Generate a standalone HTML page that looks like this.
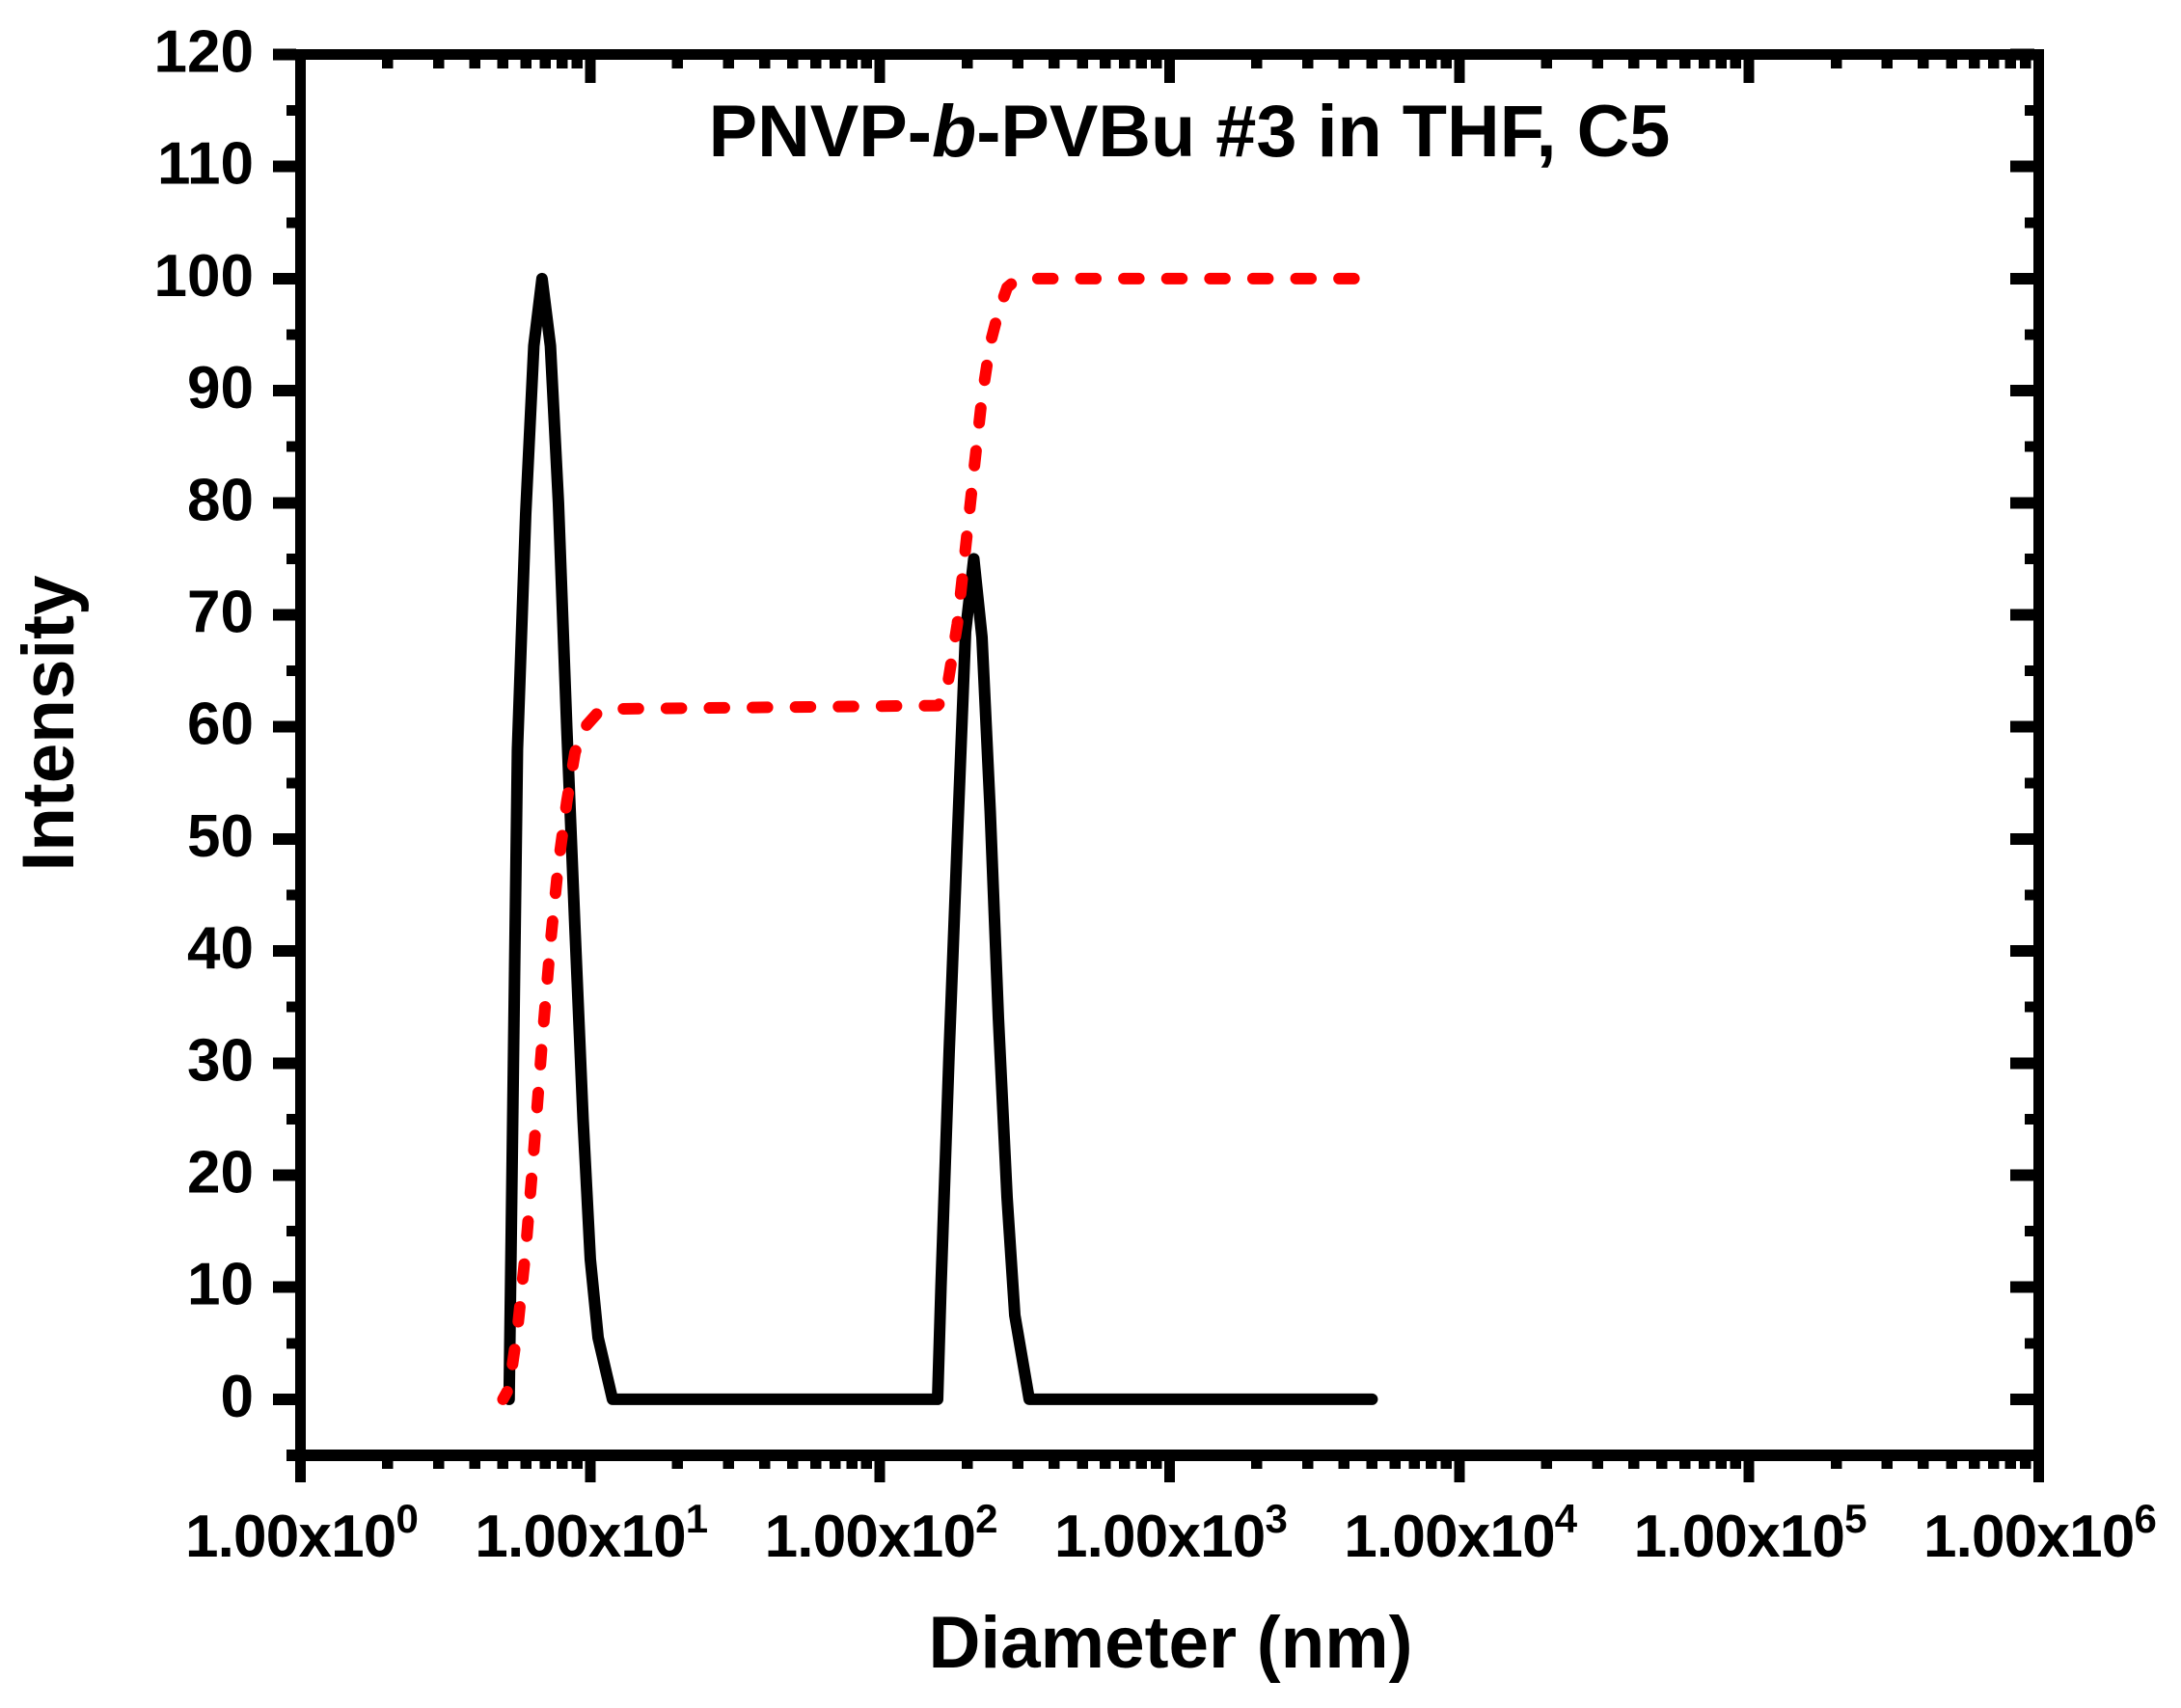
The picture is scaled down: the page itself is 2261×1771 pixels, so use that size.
<!DOCTYPE html>
<html lang="en">
<head>
<meta charset="utf-8">
<title>PNVP-b-PVBu #3 in THF, C5</title>
<style>
html,body{margin:0;padding:0;background:#fff;}
svg{display:block;}
text{font-family:"Liberation Sans",Arial,sans-serif;font-weight:bold;fill:#000;}
</style>
</head>
<body>
<svg id="chart" xmlns="http://www.w3.org/2000/svg" width="2261" height="1771" viewBox="0 0 2261 1771">
  <rect x="0" y="0" width="2261" height="1771" fill="#fff"/>
  <g id="ticks" shape-rendering="crispEdges"></g>
  <g id="spines" shape-rendering="crispEdges">
    <rect x="283" y="51" width="1836" height="11" fill="#000"/>
    <rect x="297" y="1503" width="1822" height="12" fill="#000"/>
    <rect x="306" y="51" width="11" height="1464" fill="#000"/>
    <rect x="2108" y="51" width="11" height="1464" fill="#000"/>
  </g>
  <g id="tick-labels"></g>
  <g id="series"></g>
  <text x="1233" y="162" text-anchor="middle" font-size="75.7">PNVP-<tspan font-style="italic">b</tspan>-PVBu #3 in THF, C5</text>
  <text x="1213.5" y="1729" text-anchor="middle" font-size="76" textLength="502" lengthAdjust="spacingAndGlyphs">Diameter (nm)</text>
  <text x="0" y="0" text-anchor="middle" font-size="76" textLength="307" lengthAdjust="spacingAndGlyphs" transform="translate(76 750) rotate(-90)">Intensity</text>
</svg>
<script>
// Chart data
const intensityDiameters = [5.25, 5.61, 5.99, 6.39, 6.82, 7.29, 7.77, 8.30, 8.86, 9.45, 10.01, 10.65, 11.94, 158.2, 162.5, 173.4, 185.1, 197.6, 210.9, 225.1, 240.3, 256.5, 274.8, 292.2, 327.7, 5000];
const intensityValues = [0, 58, 79, 94, 100, 94, 80, 60, 42, 25, 12.5, 5.5, 0, 0, 10, 31, 50, 68.5, 75, 68, 52.5, 34, 18, 7.5, 0, 0];
const cumulativeDiameters = [5.0, 5.25, 5.61, 5.99, 6.39, 6.82, 7.29, 7.77, 8.30, 8.86, 9.53, 10.65, 11.67, 158.2, 168.2, 173.4, 185.1, 197.6, 210.9, 225.1, 240.3, 256.5, 274.8, 292.2, 327.7, 5000];
const cumulativeValues = [0, 1, 6.2, 13.3, 22.2, 31.8, 40.7, 47.8, 53.3, 57.7, 59.9, 61.3, 61.6, 61.9, 62.6, 64.6, 69.2, 76, 82.8, 89.4, 94.2, 97, 99.2, 99.8, 100, 100];
const yMajorTicks = [0, 10, 20, 30, 40, 50, 60, 70, 80, 90, 100, 110, 120];
const yMinorTicks = [-5, 5, 15, 25, 35, 45, 55, 65, 75, 85, 95, 105, 115];
const xDecadeExponents = [0, 1, 2, 3, 4, 5, 6];
const xMinorMultipliers = [2, 3, 4, 5, 6, 7, 8, 9];
const xTickMantissa = '1.00x10';

// Axis functions
const PLOT = { left: 311.5, right: 2113.5, top: 56.5, bottom: 1509 };
const X_DOMAIN = [0, 6];
const Y_DOMAIN = [-5, 120];
function xScale(d) {
  return PLOT.left + (Math.log10(d) - X_DOMAIN[0]) / (X_DOMAIN[1] - X_DOMAIN[0]) * (PLOT.right - PLOT.left);
}
function yScale(v) {
  return PLOT.bottom - (v - Y_DOMAIN[0]) / (Y_DOMAIN[1] - Y_DOMAIN[0]) * (PLOT.bottom - PLOT.top);
}

const NS = 'http://www.w3.org/2000/svg';
const ticksGroup = document.getElementById('ticks');
const labelsGroup = document.getElementById('tick-labels');
const seriesGroup = document.getElementById('series');

function makeRect(parent, x, y, w, h) {
  const r = document.createElementNS(NS, 'rect');
  r.setAttribute('x', x);
  r.setAttribute('y', y);
  r.setAttribute('width', w);
  r.setAttribute('height', h);
  r.setAttribute('fill', '#000');
  parent.appendChild(r);
  return r;
}

// Horizontal ticks on the y axes
yMajorTicks.forEach(function (v) {
  const y = yScale(v);
  const left = makeRect(ticksGroup, 283, y - 6, 24, 12);
  
  
  const right = makeRect(ticksGroup, 2084, y - 6, 25, 12);
  
  
  const label = document.createElementNS(NS, 'text');
  
  
  label.setAttribute('x', 263);
  label.setAttribute('y', y + 18);
  label.setAttribute('text-anchor', 'end');
  label.setAttribute('font-size', '62');
  label.textContent = String(v);
  labelsGroup.appendChild(label);
});
yMinorTicks.forEach(function (v) {
  const y = yScale(v);
  const left = makeRect(ticksGroup, 297, y - 5.5, 10, 11);
  
  
  const right = makeRect(ticksGroup, 2099, y - 5.5, 10, 11);
  
  
});

// Vertical ticks on the x axes
xDecadeExponents.forEach(function (e) {
  const decade = Math.pow(10, e);
  const x = xScale(decade);
  const bottom = makeRect(ticksGroup, x - 5.5, 1514, 11, 23);
  
  
  const top = makeRect(ticksGroup, x - 5.5, 61, 11, 25);
  
  

  const label = document.createElementNS(NS, 'text');
  
  
  label.setAttribute('x', x + 1);
  label.setAttribute('y', 1614);
  label.setAttribute('text-anchor', 'middle');
  label.setAttribute('font-size', '62');
  label.setAttribute('letter-spacing', '-0.8');
  const mant = document.createElementNS(NS, 'tspan');
  mant.textContent = xTickMantissa;
  label.appendChild(mant);
  const exp = document.createElementNS(NS, 'tspan');
  exp.setAttribute('font-size', '42');
  exp.setAttribute('dy', '-25');
  exp.textContent = String(e);
  label.appendChild(exp);
  labelsGroup.appendChild(label);

  if (e < xDecadeExponents[xDecadeExponents.length - 1]) {
    xMinorMultipliers.forEach(function (m) {
      const xm = xScale(m * decade);
      const mb = makeRect(ticksGroup, xm - 5.75, 1514, 11.5, 9);
      
      
      const mt = makeRect(ticksGroup, xm - 5.75, 61, 11.5, 10);
      
      
    });
  }
});

function pathFrom(xs, ys) {
  return xs.map(function (d, i) {
    return (i === 0 ? 'M' : 'L') + xScale(d).toFixed(2) + ' ' + yScale(ys[i]).toFixed(2);
  }).join(' ');
}

const intensityLine = document.createElementNS(NS, 'path');


intensityLine.setAttribute('d', pathFrom(intensityDiameters, intensityValues));
intensityLine.setAttribute('fill', 'none');
intensityLine.setAttribute('stroke', '#000');
intensityLine.setAttribute('stroke-width', '12');
intensityLine.setAttribute('stroke-linejoin', 'round');
intensityLine.setAttribute('stroke-linecap', 'round');
seriesGroup.appendChild(intensityLine);

const cumulativeLine = document.createElementNS(NS, 'path');


cumulativeLine.setAttribute('d', pathFrom(cumulativeDiameters, cumulativeValues));
cumulativeLine.setAttribute('fill', 'none');
cumulativeLine.setAttribute('stroke', '#ff0000');
cumulativeLine.setAttribute('stroke-width', '12');
cumulativeLine.setAttribute('stroke-linejoin', 'round');
cumulativeLine.setAttribute('stroke-linecap', 'round');
cumulativeLine.setAttribute('stroke-dasharray', '15.5 29.1');
cumulativeLine.setAttribute('stroke-dashoffset', '6.5');
seriesGroup.appendChild(cumulativeLine);
</script>
</body>
</html>
